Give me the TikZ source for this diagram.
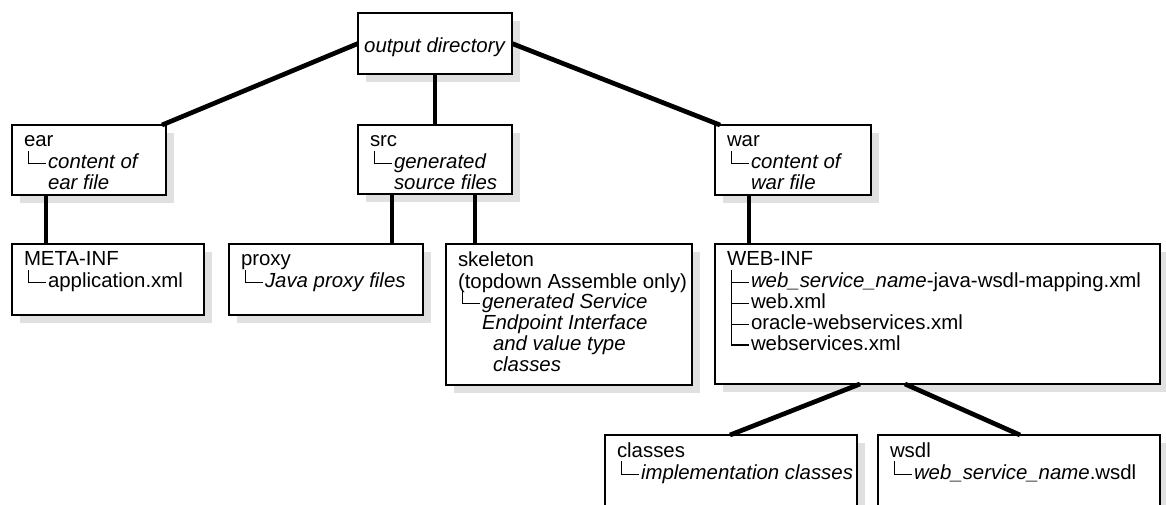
\documentclass[tikz,border=0pt]{standalone}
\usepackage{fontspec}
\setmainfont{Liberation Sans}
\usetikzlibrary{shadows}
\definecolor{shadowgray}{gray}{0.88}
\newcommand\tL{\makebox[24pt][l]{\smash{\hspace{3.5pt}\rule[4.5pt]{1.1pt}{13.5pt}\rule[4.5pt]{17pt}{1.1pt}}}}
\newcommand\tT{\makebox[24pt][l]{\smash{\hspace{3.5pt}\rule[-2.7pt]{1.1pt}{20.7pt}\rule[4.5pt]{17pt}{1.1pt}}}}
\newcommand\ind[1]{\hspace*{#1pt}}
\begin{document}
\begin{tikzpicture}[x=1pt,y=-1pt,
  box/.style={draw=black, line width=2.6pt, fill=white, anchor=north west, outer sep=0pt, inner sep=0pt,
    drop shadow={shadow xshift=8pt, shadow yshift=-8pt, opacity=1, fill=shadowgray}},
  txt/.style={anchor=north west, inner sep=0pt, outer sep=0pt, align=left, font=\fontsize{20.4}{20.7}\selectfont},
  link/.style={line width=4.7pt, draw=black}]
\useasboundingbox (0,0) rectangle (1166,504);
\clip (0,0) rectangle (1166,504);
% boxes
\node[box, minimum width=154pt, minimum height=61pt] (out) at (358,13) {};
\node[box, minimum width=154pt, minimum height=70pt] (ear) at (12,125) {};
\node[box, minimum width=154pt, minimum height=69pt] (src) at (358,125) {};
\node[box, minimum width=156pt, minimum height=70pt] (war) at (715,125) {};
\node[box, minimum width=192pt, minimum height=71pt] (meta) at (12,244) {};
\node[box, minimum width=194pt, minimum height=71pt] (proxy) at (229,244) {};
\node[box, minimum width=246pt, minimum height=141pt] (skel) at (446,244) {};
\node[box, minimum width=445pt, minimum height=140pt] (web) at (715,244) {};
\node[box, minimum width=252pt, minimum height=100pt] (cls) at (605,435) {};
\node[box, minimum width=282pt, minimum height=100pt] (wsdl) at (878,435) {};
% texts
\node[txt, anchor=base] (outT) at ([shift={(0,9)}]out.center) {\textit{output directory}};
\node[txt] (earT) at ([shift={(12,7.5)}]ear.north west) {\strut ear\\\tL\textit{content of}\\\ind{24}\textit{ear file}};
\node[txt] (srcT) at ([shift={(12,7.5)}]src.north west) {\strut src\\\tL\textit{generated}\\\ind{24}\textit{source files}};
\node[txt] (warT) at ([shift={(12,7.5)}]war.north west) {\strut war\\\tL\textit{content of}\\\ind{24}\textit{war file}};
\node[txt] (metaT) at ([shift={(12,7.5)}]meta.north west) {\strut META-INF\\\tL application.xml};
\node[txt] (proxyT) at ([shift={(12,7.5)}]proxy.north west) {\strut proxy\\\tL\textit{Java proxy files}};
\node[txt] (skelT) at ([shift={(12,7.5)}]skel.north west) {\strut skeleton\\(topdown Assemble only)\\\tL\textit{generated Service}\\\ind{24}\textit{Endpoint Interface}\\\ind{35}\textit{and value type}\\\ind{35}\textit{classes}};
\node[txt] (webT) at ([shift={(12,7.5)}]web.north west) {\strut WEB-INF\\\tT\textit{web\_service\_name}-java-wsdl-mapping.xml\\\tT web.xml\\\tT oracle-webservices.xml\\\tL webservices.xml};
\node[txt] (clsT) at ([shift={(12,7.5)}]cls.north west) {\strut classes\\\tL\textit{implementation classes}};
\node[txt] (wsdlT) at ([shift={(12,7.5)}]wsdl.north west) {\strut wsdl\\\tL\textit{web\_service\_name}.wsdl};
% connectors
\draw[link] (out.west) -- ([xshift=-4pt]ear.north east);
\draw[link] (out.south) -- (src.north);
\draw[link] (out.east) -- ([xshift=5pt]war.north west);
\draw[link] ([xshift=34pt]ear.south west) -- ([xshift=34pt]meta.north west);
\draw[link] ([xshift=34pt]src.south west) -- ([xshift=163pt]proxy.north west);
\draw[link] ([xshift=117pt]src.south west) -- ([xshift=29pt]skel.north west);
\draw[link] ([xshift=34pt]war.south west) -- ([xshift=34pt]web.north west);
\draw[link] ([xshift=145pt]web.south west) -- ([xshift=125pt]cls.north west);
\draw[link] ([xshift=190pt]web.south west) -- ([xshift=142pt]wsdl.north west);
\end{tikzpicture}
\end{document}
